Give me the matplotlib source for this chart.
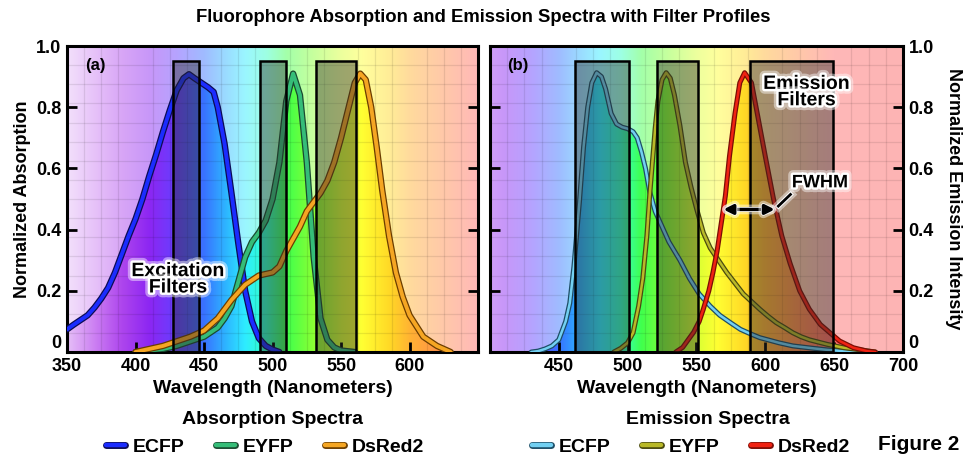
import numpy as np
import matplotlib
matplotlib.use("Agg")
from matplotlib import pyplot as plt
from matplotlib.patches import Polygon, Rectangle
from matplotlib.lines import Line2D
import matplotlib.patheffects as pe

plt.rcParams['font.family'] = ['Liberation Sans', 'DejaVu Sans']
plt.rcParams['font.weight'] = 'bold'

# ---- absorption spectra (panel a) ----
abs_ecfp_wl = [350, 355, 360, 365, 370, 375, 380, 385, 390, 395, 400, 405, 410, 415, 420, 425, 430,
               435, 439, 443, 448, 453, 457, 460, 465, 470, 475, 480, 485, 490, 495, 500, 505]
abs_ecfp = [0.074, 0.09, 0.105, 0.12, 0.145, 0.175, 0.21, 0.26, 0.32, 0.38, 0.435, 0.50, 0.575, 0.645, 0.72, 0.79,
            0.855, 0.895, 0.908, 0.895, 0.88, 0.865, 0.85, 0.80, 0.68, 0.52, 0.355, 0.20, 0.10, 0.045, 0.02,
            0.008, 0.0]

abs_eyfp_wl = [400, 410, 420, 430, 440, 450, 460, 465, 470, 475, 480, 485, 490, 495, 500, 505, 510,
               515, 520, 525, 530, 535, 540, 545, 550, 560]
abs_eyfp = [0.0, 0.005, 0.01, 0.02, 0.035, 0.05, 0.08, 0.11, 0.15, 0.23, 0.31, 0.36, 0.39, 0.43, 0.50, 0.62, 0.82,
            0.91, 0.84, 0.62, 0.31, 0.11, 0.04, 0.015, 0.005, 0.0]

abs_dsred_wl = [400, 410, 420, 430, 440, 450, 460, 470, 480, 490, 500, 505, 510, 515, 520, 525, 530, 535,
                540, 545, 550, 555, 560, 564, 568, 572, 576, 580, 585, 590, 595, 600, 610, 620, 630]
abs_dsred = [0.0, 0.01, 0.02, 0.035, 0.05, 0.07, 0.11, 0.17, 0.22, 0.25, 0.26, 0.28, 0.33, 0.37, 0.41, 0.46, 0.49, 0.52,
             0.56, 0.62, 0.70, 0.79, 0.88, 0.91, 0.89, 0.80, 0.67, 0.53, 0.38, 0.26, 0.18, 0.12, 0.05, 0.02, 0.0]

# ---- emission spectra (panel b) ----
em_ecfp_wl = [430, 435, 440, 445, 450, 455, 458, 461, 465, 468, 471, 474, 477.5, 481, 484, 488, 492, 496,
              500, 504, 507, 510, 513, 516, 520, 525, 530, 538, 545, 552, 560, 567, 575, 582, 590, 596,
              610, 620, 635, 645, 660, 670]
em_ecfp = [0.0, 0.003, 0.01, 0.02, 0.04, 0.10, 0.16, 0.28, 0.49, 0.67, 0.80, 0.88, 0.913, 0.90, 0.86, 0.78, 0.745,
           0.735, 0.73, 0.72, 0.70, 0.655, 0.60, 0.525, 0.46, 0.41, 0.36, 0.30, 0.24, 0.19, 0.15, 0.12, 0.095,
           0.074, 0.058, 0.047, 0.03, 0.02, 0.012, 0.007, 0.002, 0.0]

em_eyfp_wl = [490, 495, 500, 504, 508, 511, 514, 516, 518, 520, 522, 525, 528, 531, 534, 538, 542, 546,
              550, 555, 560, 566, 572, 578, 584, 590, 596, 602, 608, 614, 620, 626, 632, 645, 657, 669, 680]
em_eyfp = [0.0, 0.012, 0.03, 0.063, 0.15, 0.24, 0.38, 0.51, 0.62, 0.73, 0.82, 0.89, 0.913, 0.895, 0.84, 0.74, 0.62,
           0.54, 0.47, 0.39, 0.34, 0.30, 0.26, 0.225, 0.19, 0.165, 0.14, 0.117, 0.096, 0.08, 0.063, 0.05, 0.04,
           0.025, 0.014, 0.007, 0.0]

em_dsred_wl = [535, 540, 544, 548, 552, 555, 559, 562, 565, 567, 571, 574, 578, 581.5, 585, 590, 595, 600,
               606, 612, 618, 625, 632, 640, 647, 654, 664, 674, 680]
em_dsred = [0.0, 0.015, 0.04, 0.065, 0.10, 0.14, 0.20, 0.26, 0.33, 0.39, 0.51, 0.64, 0.78, 0.88, 0.913, 0.88, 0.76,
            0.64, 0.50, 0.38, 0.29, 0.20, 0.14, 0.09, 0.063, 0.036, 0.014, 0.003, 0.0]

# filter bands (nm), transmission top
exc_filters = [(427, 446), (491, 510), (532, 561)]
em_filters = [(462, 501), (521, 551), (589, 649)]
filter_top = 0.95

fwhm_left, fwhm_right, fwhm_level = 569.5, 607, 0.466

labels = ["ECFP", "EYFP", "DsRed2"]
abs_colors = [("#1b2cff", "#0c0c55"), ("#35bd78", "#1a4a30"), ("#f5a623", "#6b3d00")]
em_colors = [("#72d0f2", "#1d4d66"), ("#b9b928", "#4a4a10"), ("#f02212", "#7a0d05")]

# spectrum colour stops for the background
stop_wl = [340, 350, 370, 390, 410, 430, 450, 465, 480, 495, 510, 530, 550, 565, 585, 600, 625, 650, 710]
stop_rgb = [(0.93, 0.82, 0.98), (0.90, 0.75, 0.97), (0.80, 0.50, 0.95), (0.68, 0.27, 0.93), (0.55, 0.15, 0.95),
            (0.40, 0.25, 1.0), (0.22, 0.45, 1.0), (0.18, 0.70, 1.0), (0.18, 0.93, 1.0), (0.20, 1.0, 0.78),
            (0.25, 1.0, 0.30), (0.55, 1.0, 0.20), (0.85, 1.0, 0.20), (1.0, 1.0, 0.20), (1.0, 0.85, 0.15),
            (1.0, 0.70, 0.20), (1.0, 0.55, 0.30), (1.0, 0.42, 0.42), (0.98, 0.38, 0.38)]
stop_rgb = np.array(stop_rgb)


def spectrum_strip(x0, x1, pale):
    wl = np.linspace(x0, x1, 600)
    rgb = np.stack([np.interp(wl, stop_wl, stop_rgb[:, i]) for i in range(3)], axis=-1)
    if pale:
        rgb = 0.48 * rgb + 0.52
    return rgb[np.newaxis, :, :]


glow = [pe.withStroke(linewidth=7, foreground="white", alpha=0.45),
        pe.withStroke(linewidth=3.5, foreground="white")]


def draw_panel(ax, x0, x1, series, colors, filters, lw):
    ax.set_xlim(x0, x1)
    ax.set_ylim(0, 1)
    ax.imshow(spectrum_strip(x0, x1, True), extent=(x0, x1, 0, 1), aspect="auto", zorder=0)
    vivid = spectrum_strip(x0, x1, False)
    for wl, val in series:
        verts = list(zip(wl, val)) + [(wl[-1], 0), (wl[0], 0)]
        poly = Polygon(verts, closed=True, facecolor="none", edgecolor="none")
        ax.add_patch(poly)
        im = ax.imshow(vivid, extent=(x0, x1, 0, 1), aspect="auto", zorder=1)
        im.set_clip_path(poly)
    ax.set_xticks(np.arange(x0, x1 + 0.1, 12.5), minor=True)
    ax.set_yticks(np.arange(0, 1.001, 1 / 16), minor=True)
    ax.grid(which="minor", color="#000000", alpha=0.09, lw=0.9)
    ax.set_axisbelow(False)
    for (wl, val), (core, edge) in zip(series, colors):
        ax.plot(wl, val, color=core, lw=lw, zorder=3, solid_capstyle="round",
                path_effects=[pe.Stroke(linewidth=lw + 1.8, foreground=edge), pe.Normal()])
    for lo, hi in filters:
        ax.add_patch(Rectangle((lo, 0), hi - lo, filter_top, facecolor="#2a2a2a", alpha=0.42,
                               edgecolor="none", zorder=4))
        ax.add_patch(Rectangle((lo, 0), hi - lo, filter_top, facecolor="none",
                               edgecolor="black", lw=1.8, zorder=5))
    ax.tick_params(which="major", direction="in", length=7, width=2, left=True, right=True,
                   bottom=True, top=False, labelsize=13, pad=4)
    ax.tick_params(which="minor", length=0)
    for s in ax.spines.values():
        s.set_linewidth(2.2)
    ax.set_xlabel("Wavelength (Nanometers)", fontsize=14, fontweight="bold", labelpad=4)


fig = plt.figure(figsize=(9.66, 4.58), dpi=100)
ax_a = fig.add_axes([0.0694, 0.2314, 0.4255, 0.668])
ax_b = fig.add_axes([0.5072, 0.2314, 0.4275, 0.668])

draw_panel(ax_a, 350, 650,
           [(abs_ecfp_wl, abs_ecfp), (abs_eyfp_wl, abs_eyfp), (abs_dsred_wl, abs_dsred)],
           abs_colors, exc_filters, 2.8)
draw_panel(ax_b, 400, 700,
           [(em_ecfp_wl, em_ecfp), (em_eyfp_wl, em_eyfp), (em_dsred_wl, em_dsred)],
           em_colors, em_filters, 1.8)

ax_a.set_xticks([350, 400, 450, 500, 550, 600])
ax_a.set_yticks([0, 0.2, 0.4, 0.6, 0.8, 1.0])
ax_a.set_yticklabels(["0", "0.2", "0.4", "0.6", "0.8", "1.0"])
ax_a.set_ylabel("Normalized Absorption", fontsize=13, fontweight="bold", labelpad=4)

ax_b.set_xticks([450, 500, 550, 600, 650, 700])
ax_b.set_yticks([0, 0.2, 0.4, 0.6, 0.8, 1.0])
ax_b.set_yticklabels(["0", "0.2", "0.4", "0.6", "0.8", "1.0"])
ax_b.yaxis.tick_right()
ax_b.tick_params(axis="y", left=True, right=True, labelleft=False, labelright=True)
ax_b.yaxis.set_label_position("right")
ax_b.set_ylabel("Normalized Emission Intensity", fontsize=13, fontweight="bold",
                rotation=-90, labelpad=20)

for lab in ax_a.get_xticklabels() + ax_b.get_xticklabels() + ax_a.get_yticklabels() + ax_b.get_yticklabels():
    lab.set_fontweight("bold")
# the "0" labels sit a little above the bottom axis, clear of the wavelength labels
ax_a.get_yticklabels()[0].set_verticalalignment("bottom")
ax_b.get_yticklabels()[0].set_verticalalignment("bottom")

ax_a.text(371, 0.935, "(a)", fontsize=12, fontweight="bold", ha="center", va="center", zorder=6)
ax_b.text(420, 0.935, "(b)", fontsize=12, fontweight="bold", ha="center", va="center", zorder=6)

ax_a.text(431, 0.236, "Excitation\nFilters", fontsize=14, fontweight="bold", ha="center", va="center",
          linespacing=0.95, zorder=6, path_effects=glow)
ax_b.text(630, 0.848, "Emission\nFilters", fontsize=14, fontweight="bold", ha="center", va="center",
          linespacing=0.95, zorder=6, path_effects=glow)

ax_b.annotate("", xy=(fwhm_left, fwhm_level), xytext=(fwhm_right, fwhm_level), zorder=6,
              arrowprops=dict(arrowstyle="<|-|>", color="black", lw=2.4, mutation_scale=14,
                              shrinkA=0, shrinkB=0, path_effects=glow))
ax_b.plot([609.5, 618.3], [0.477, 0.515], color="black", lw=2, zorder=6, path_effects=glow)
ax_b.text(639.7, 0.553, "FWHM", fontsize=13, fontweight="bold", ha="center", va="center",
          zorder=6, path_effects=glow)

fig.text(0.5, 0.961, "Fluorophore Absorption and Emission Spectra with Filter Profiles",
         fontsize=13.3, fontweight="bold", ha="center", va="center")

fig.text(272 / 966, 1 - 420 / 458, "Absorption Spectra", fontsize=14, fontweight="bold",
         ha="center", va="center")
fig.text(708 / 966, 1 - 420 / 458, "Emission Spectra", fontsize=14, fontweight="bold",
         ha="center", va="center")
fig.text(919 / 966, 1 - 445 / 458, "Figure 2", fontsize=15, fontweight="bold", ha="center", va="center")


def legend_handles(colors):
    return [Line2D([0], [0], color=core, lw=3.2, solid_capstyle="round",
                   path_effects=[pe.Stroke(linewidth=5, foreground=edge, capstyle="round"), pe.Normal()])
            for core, edge in colors]


for colors, cx in [(abs_colors, 265), (em_colors, 691)]:
    fig.legend(legend_handles(colors), labels, loc="center", ncol=3, frameon=False,
               bbox_to_anchor=(cx / 966, 1 - 447 / 458), handlelength=1.0, handletextpad=0.4,
               columnspacing=1.6, prop={"size": 14, "weight": "bold"})

fig.savefig("out.png", dpi=100)
